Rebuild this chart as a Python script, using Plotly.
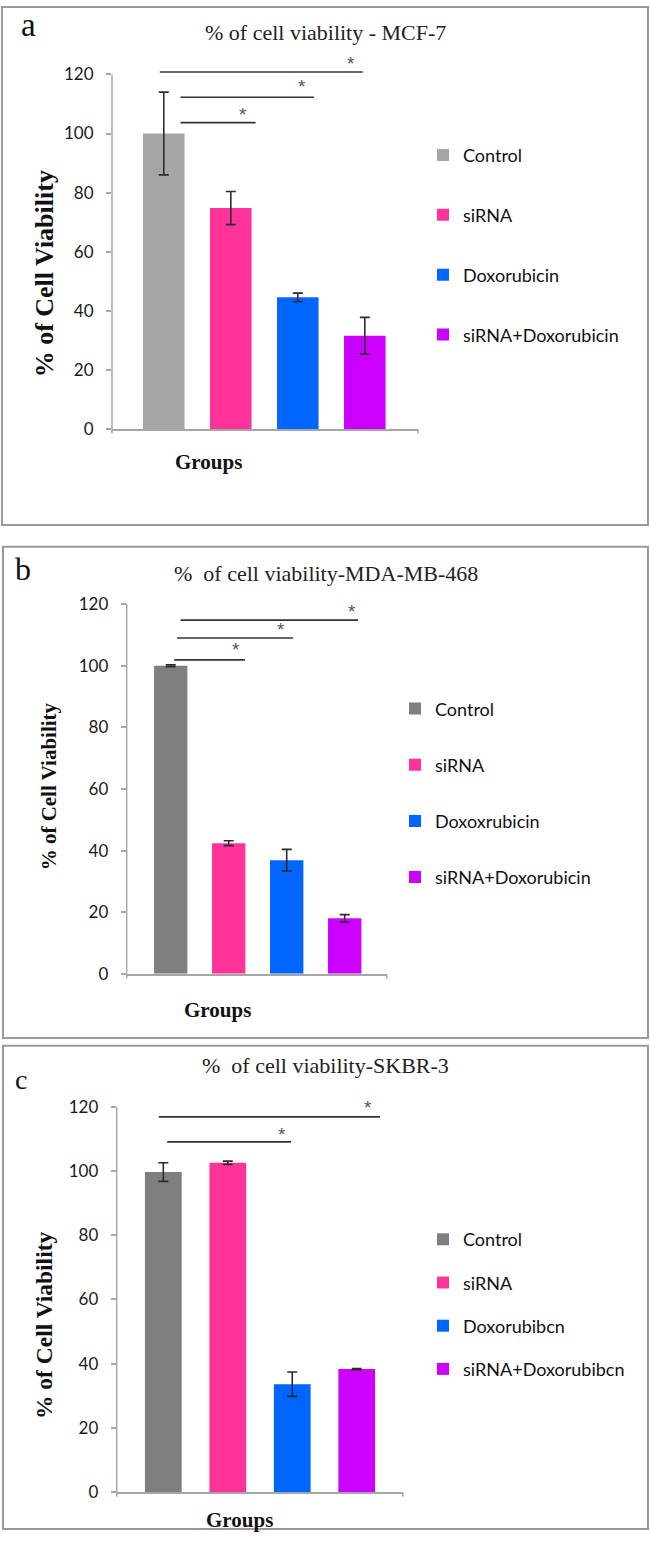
import plotly.graph_objects as go

W, H = 650, 1549

# ---------------- data ----------------
groups_a = ["Control", "siRNA", "Doxorubicin", "siRNA+Doxorubicin"]
viab_a = [100.0, 74.8, 44.6, 31.6]
err_a = [14.0, 5.6, 1.4, 6.2]

groups_b = ["Control", "siRNA", "Doxoxrubicin", "siRNA+Doxorubicin"]
viab_b = [100.0, 42.4, 36.9, 18.0]
err_b = [0.3, 0.8, 3.5, 1.2]

groups_c = ["Control", "siRNA", "Doxorubibcn", "siRNA+Doxorubibcn"]
viab_c = [99.7, 102.6, 33.6, 38.3]
err_c = [2.9, 0.5, 3.8, 0.2]

y_ticks = [0, 20, 40, 60, 80, 100, 120]

# significance brackets (start, end in category units, height in %)
sig_a = [(-0.06, 2.97, 120.8), (0.25, 2.24, 112.3), (0.25, 1.37, 103.7)]
star_a = [(2.80, 123.6), (2.06, 115.8), (1.18, 106.3)]
sig_b = [(0.17, 3.23, 114.8), (0.11, 2.11, 109.0), (0.06, 1.28, 101.9)]
star_b = [(3.12, 117.6), (1.90, 111.7), (1.12, 105.3)]
sig_c = [(-0.07, 3.36, 116.9), (0.06, 1.98, 109.1)]
star_c = [(3.18, 119.7), (1.84, 111.4)]

colors_a = ["#a5a5a5", "#ff3399", "#0066ff", "#cc00ff"]
colors_bc = ["#7f7f7f", "#ff3399", "#0066ff", "#cc00ff"]

SERIF = "Liberation Serif, Times New Roman, serif"
SANS = "Lato, Carlito, Liberation Sans, Arial, sans-serif"
AXC = "#a6a6a6"


def px(x):
    return x / W


def py(y):
    return 1 - y / H


panels = [
    dict(letter="a", title="% of cell viability - MCF-7", groups=groups_a, vals=viab_a, errs=err_a,
         colors=colors_a, sig=sig_a, stars=star_a, xr=[-0.773, 3.794], ymax=126,
         xpx=(112, 418), y0=428.3, ppu=2.985, bw=0.62,
         letter_pos=(29, 20, 33), title_pos=(325, 28, 22), ytitle=(44, 272, 26), groups_pos=(208, 461),
         leg=(423, 133, 33.5), box=(2, 2, 648, 525)),
    dict(letter="b", title="% \u00a0of cell viability-MDA-MB-468", groups=groups_b, vals=viab_b, errs=err_b,
         colors=colors_bc, sig=sig_b, stars=star_b, xr=[-0.759, 3.724], ymax=122,
         xpx=(126.7, 386.7), y0=978.3, ppu=3.111, bw=0.575,
         letter_pos=(23, 570, 32), title_pos=(326, 574, 22), ytitle=(49, 789, 21), groups_pos=(217, 1015),
         leg=(395, 692, 29.8), box=(3, 547, 648, 1043)),
    dict(letter="c", title="% \u00a0of cell viability-SKBR-3", groups=groups_c, vals=viab_c, errs=err_c,
         colors=colors_bc, sig=sig_c, stars=star_c, xr=[-0.723, 3.713], ymax=122,
         xpx=(116.7, 402.7), y0=1501.5, ppu=3.24, bw=0.57,
         letter_pos=(21, 1085, 28), title_pos=(326, 1071, 22), ytitle=(44, 1333, 23.5), groups_pos=(239, 1530),
         leg=(423, 1228, 16.8), box=(3, 1051, 648, 1539)),
]

fig = go.Figure()
shapes = []
annotations = []
layout = {}

for i, p in enumerate(panels):
    n = "" if i == 0 else str(i + 1)
    xa, ya = "x" + n, "y" + n
    leg = "legend" + n
    for g, v, e, c in zip(p["groups"], p["vals"], p["errs"], p["colors"]):
        fig.add_trace(go.Bar(
            x=[g], y=[v], name=g, width=p["bw"], marker=dict(color=c, line=dict(width=0)),
            error_y=dict(type="data", array=[e], color="#2b2b2b", thickness=1.6, width=5),
            xaxis=xa, yaxis=ya, legend=leg, legendgroup=p["letter"] + g, showlegend=True,
        ))
    ytop = p["y0"] - p["ymax"] * p["ppu"]
    layout["xaxis" + n] = dict(
        domain=[px(p["xpx"][0]), px(p["xpx"][1])], anchor=ya, type="category",
        categoryorder="array", categoryarray=p["groups"], range=p["xr"],
        showticklabels=False, ticks="", showline=True, linecolor=AXC, linewidth=1.5,
        showgrid=False, zeroline=False, fixedrange=True,
    )
    layout["yaxis" + n] = dict(
        domain=[py(p["y0"]), py(ytop)], anchor=xa, range=[0, p["ymax"]],
        tickmode="array", tickvals=y_ticks, ticks="outside", ticklen=5, tickcolor=AXC, tickwidth=1.5,
        showline=False, showgrid=False, zeroline=False, ticklabelstandoff=9,
        tickfont=dict(family=SANS, size=17, color="#1a1a1a"), fixedrange=True,
    )
    lx, ly, gap = p["leg"]
    layout[leg] = dict(x=px(lx), y=py(ly), xanchor="left", yanchor="top", orientation="v",
                       font=dict(family=SANS, size=18, color="#111"), tracegroupgap=gap,
                       bgcolor="rgba(0,0,0,0)", itemclick=False, itemdoubleclick=False)
    # y axis line from 0 to 120, slightly extended below the category axis
    shapes.append(dict(type="line", xref=xa + " domain", yref=ya, x0=0, x1=0, y0=0, y1=y_ticks[-1],
                       line=dict(color=AXC, width=1.5)))
    shapes.append(dict(type="line", xref=xa + " domain", yref=ya + " domain", x0=0, x1=0, y0=0, y1=-0.012,
                       line=dict(color=AXC, width=1.5)))
    shapes.append(dict(type="line", xref=xa + " domain", yref=ya + " domain", x0=1, x1=1, y0=0, y1=-0.012,
                       line=dict(color=AXC, width=1.5)))
    # panel frame
    bx0, by0, bx1, by1 = p["box"]
    shapes.append(dict(type="rect", xref="paper", yref="paper", x0=px(bx0), x1=px(bx1), y0=py(by1), y1=py(by0),
                       line=dict(color="#9a9a9a", width=2), fillcolor="rgba(0,0,0,0)"))
    # significance brackets
    for (s0, s1, h) in p["sig"]:
        shapes.append(dict(type="line", xref=xa, yref=ya, x0=s0, x1=s1, y0=h, y1=h,
                           line=dict(color="#333", width=1.6)))
    for (sx, sy) in p["stars"]:
        annotations.append(dict(text="*", xref=xa, yref=ya, x=sx, y=sy, showarrow=False,
                                font=dict(family="Liberation Sans, Arial, sans-serif", size=19, color="#555"),
                                xanchor="center", yanchor="middle"))
    # texts
    lxp, lyp, lsz = p["letter_pos"]
    annotations.append(dict(text=p["letter"], xref="paper", yref="paper", x=px(lxp), y=py(lyp), showarrow=False,
                            font=dict(family=SERIF, size=lsz, color="#111"), xanchor="center", yanchor="middle"))
    tx, ty, tsz = p["title_pos"]
    annotations.append(dict(text=p["title"], xref="paper", yref="paper", x=px(tx), y=py(ty), showarrow=False,
                            font=dict(family=SERIF, size=tsz, color="#222"), xanchor="center", yanchor="middle"))
    yx, yy, ysz = p["ytitle"]
    annotations.append(dict(text="<b>% of Cell Viability</b>", xref="paper", yref="paper", x=px(yx), y=py(yy),
                            showarrow=False, textangle=-90,
                            font=dict(family=SERIF, size=ysz, color="#111"), xanchor="center", yanchor="middle"))
    gx, gy = p["groups_pos"]
    annotations.append(dict(text="<b>Groups</b>", xref="paper", yref="paper", x=px(gx), y=py(gy), showarrow=False,
                            font=dict(family=SERIF, size=21, color="#111"), xanchor="center", yanchor="middle"))

fig.update_layout(
    width=W, height=H, margin=dict(l=0, r=0, t=0, b=0),
    paper_bgcolor="white", plot_bgcolor="white", barmode="overlay",
    shapes=shapes, annotations=annotations, showlegend=True, **layout,
)

fig.write_html("out.html", config={"displayModeBar": False},
               post_script="document.body.style.margin='0px';document.body.style.overflow='hidden';")
